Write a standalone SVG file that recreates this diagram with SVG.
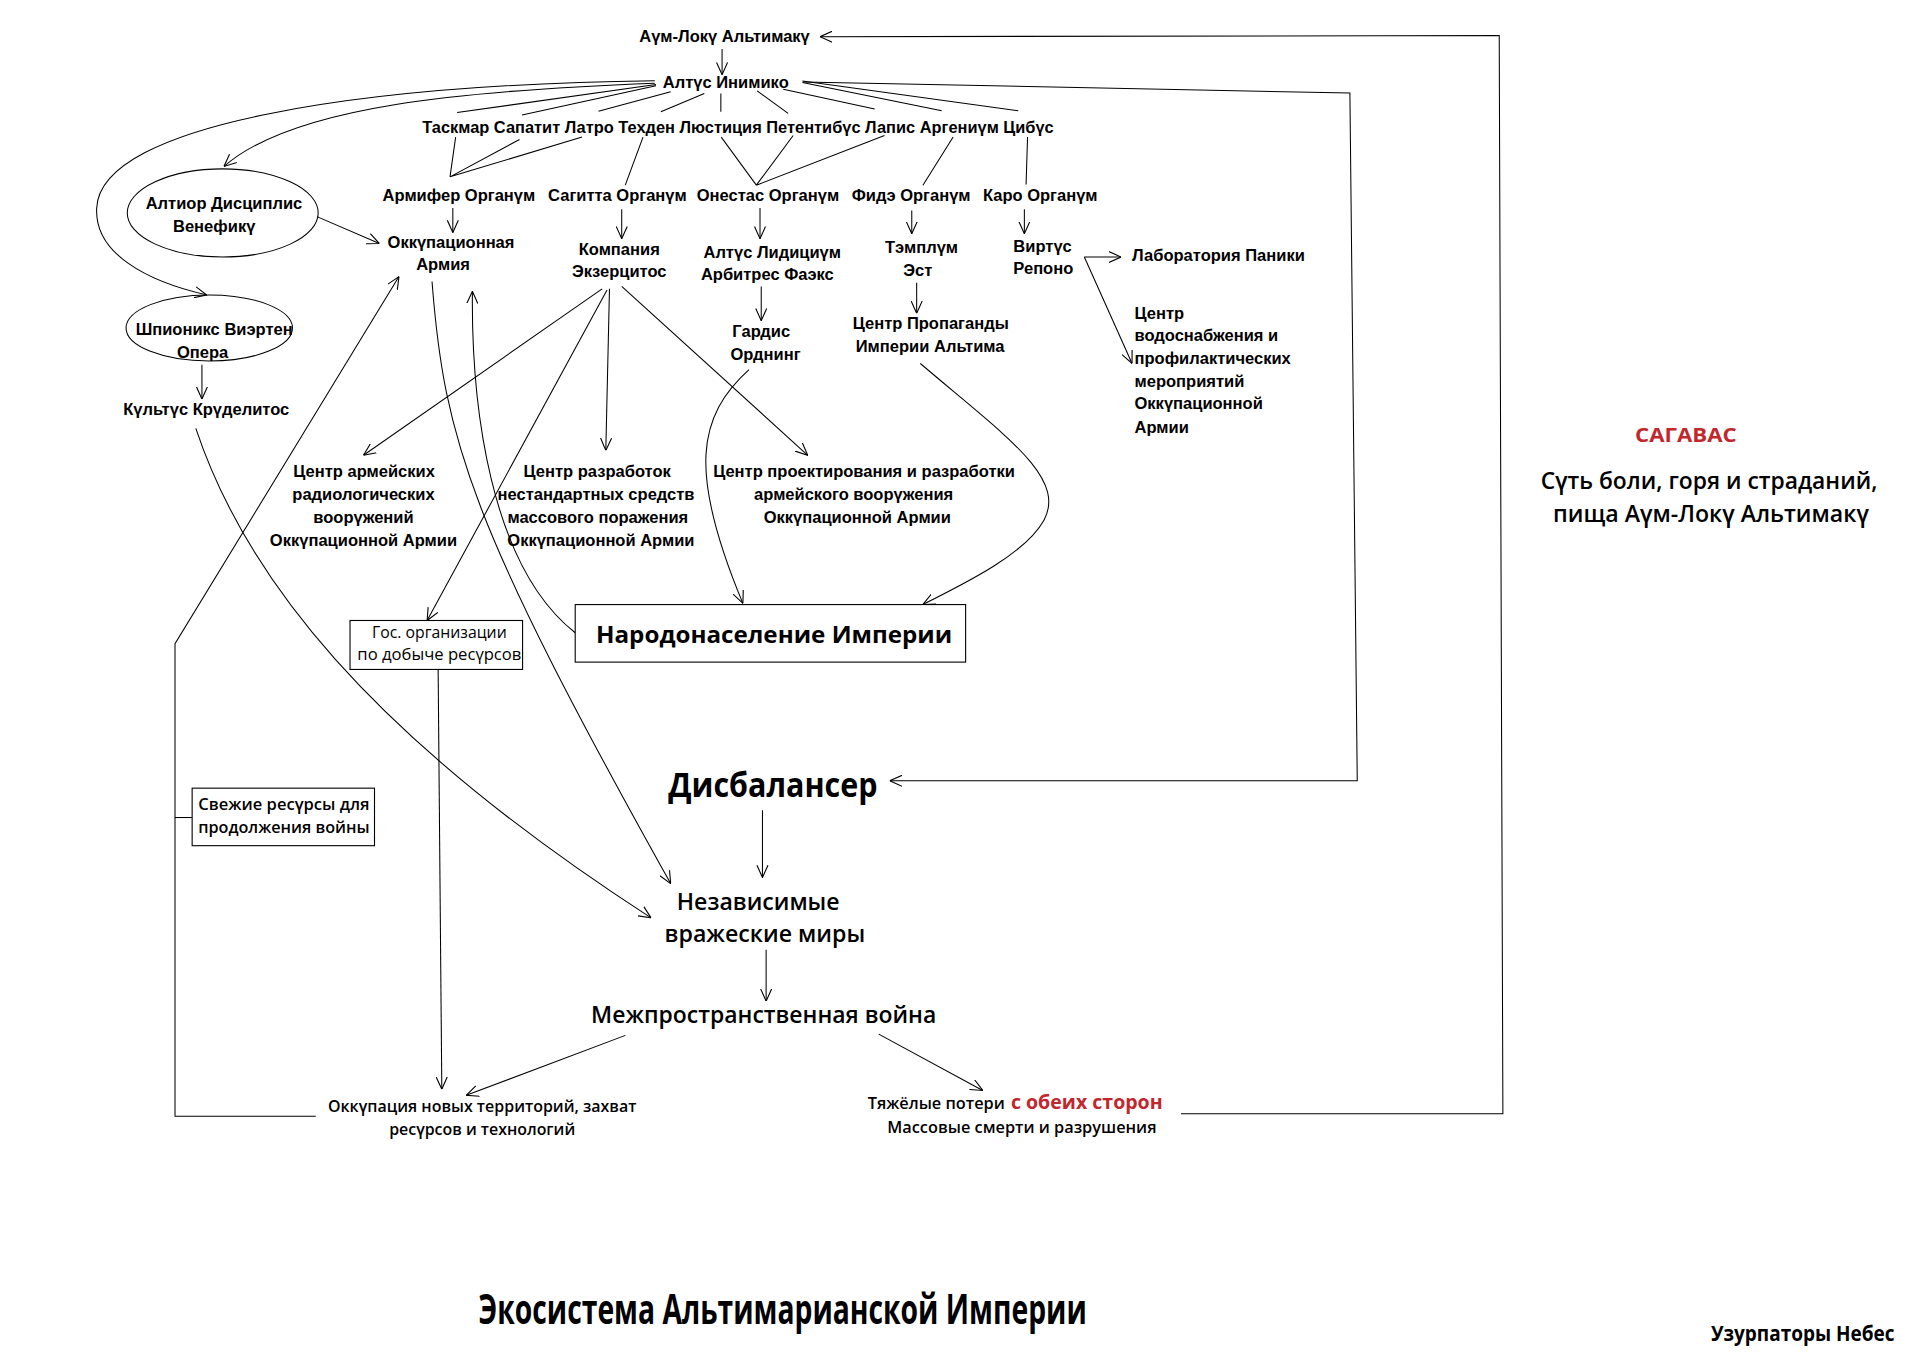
<svg xmlns="http://www.w3.org/2000/svg" width="1919" height="1359" viewBox="0 0 1919 1359">
<style>
.t{font-family:"Liberation Sans",Arial,sans-serif;font-weight:bold;font-size:13.5px;fill:#000;text-anchor:middle}
.l{text-anchor:start}
.o{font-family:"Open Sans","Liberation Sans",sans-serif;fill:#000}
.r{fill:#c1272d}
.c{fill:none;stroke:#000;stroke-width:0.85}
.a{marker-end:url(#ah)}
.b{fill:#fff;stroke:#000;stroke-width:0.9}
</style>
<defs>
<marker id="ah" viewBox="0 0 10 10" refX="10" refY="5" markerWidth="10" markerHeight="10" markerUnits="userSpaceOnUse" orient="auto">
<path d="M0,0.5 L10,5 L0,9.5" fill="none" stroke="#000" stroke-width="0.9"/>
</marker>
</defs>
<rect width="1919" height="1359" fill="#fff"/>
<g transform="scale(1.22385)">
<g id="connectors">
<path class="c a" d="M965,910 L1228,910 L1225,29 L670,30"/>
<path class="c a" d="M656,67 L1103,76 L1109,638 L727,638"/>
<path class="c a" d="M590,40 L590,61"/>
<path class="c" d="M536,69 L373.5,92 M536,70 L426.5,94 M548,75 L489,91 M575.5,76.4 L540,91.3 M589,76.4 L589,91.3 M618.6,74.3 L644,92.6 M640,73 L714.7,89 M655.7,67.5 L769.5,90.5 M655.7,66.2 L832,90.5"/>
<path class="c" d="M372.3,112 L367.7,144.5 M424.5,114 L367.7,144.5 M475.6,112 L367.7,144.5 M525.4,112 L510.9,151.3 M589.3,112 L618,151.3 M648.1,110.7 L618,151.3 M722.7,110.7 L618,151.3 M778.8,112 L754.1,151.3 M839.6,112 L838.4,150.7"/>
<path class="c a" d="M370,170 L370,190"/>
<path class="c a" d="M508,171 L508,195"/>
<path class="c a" d="M621,170 L621,195"/>
<path class="c a" d="M745,172 L745,191"/>
<path class="c a" d="M837,171 L837,191"/>
<path class="c a" d="M622,234 L622,262"/>
<path class="c a" d="M749,231 L749,256"/>
<path class="c a" d="M535,68 C 380,74 240,86 183,136"/>
<path class="c a" d="M535,66 C 300,69 82,100 79,170 C 77,207 120,230 169,241"/>
<path class="c a" d="M165,298 L165,326"/>
<path class="c a" d="M259,177 L310,199"/>
<path class="c a" d="M160,350 C 200,470 300,600 532,750"/>
<path class="c a" d="M258,912 L143,912 L143,526 L326,226"/>
<path class="c" d="M143,668 L158,668"/>
<path class="c a" d="M353,230 C 363,360 385,430 548,722"/>
<path class="c a" d="M470,517 C 400,462 385,330 386,238"/>
<path class="c a" d="M492,236 L297,372"/>
<path class="c a" d="M498,236 L495,368"/>
<path class="c a" d="M508,234 L660,372"/>
<path class="c a" d="M496,237 L349,507"/>
<path class="c a" d="M612,302 C 570,340 562,385 607,493"/>
<path class="c a" d="M752,297 C 820,355 872,390 853,425 C 838,452 792,475 754,494"/>
<path class="c a" d="M886,210 L916,210"/>
<path class="c a" d="M886,210 L925,297"/>
<path class="c a" d="M358,547 L361,890"/>
<path class="c a" d="M623,662 L623,717"/>
<path class="c a" d="M626,776 L626,818"/>
<path class="c a" d="M511,846 L381,895"/>
<path class="c a" d="M718,845 L803,891"/>
</g>

<g id="aum"><text class="t" x="592" y="34.5">Аүм-Локү Альтимакү</text></g>
<g id="altus"><text class="t" x="593" y="71.5">Алтүс Инимико</text></g>
<g id="row2"><text class="t l" x="345" y="108.5" textLength="516" lengthAdjust="spacingAndGlyphs">Таскмар Сапатит Латро Техден Люстиция Петентибүс Лапис Аргениүм Цибүс</text></g>
<g id="armifer"><text class="t" x="375" y="164.5">Армифер Органүм</text></g>
<g id="sagitta"><text class="t" x="504.5" y="164.5">Сагитта Органүм</text></g>
<g id="onestas"><text class="t" x="627.5" y="164.5">Онестас Органүм</text></g>
<g id="fide"><text class="t" x="744.5" y="164.5">Фидэ Органүм</text></g>
<g id="karo"><text class="t" x="850" y="164.5">Каро Органүм</text></g>
<g id="okkup-army"><text class="t" x="368.5" y="202.5">Оккүпационная</text><text class="t" x="362" y="220.5">Армия</text></g>
<g id="kompania"><text class="t" x="506" y="208.5">Компания</text><text class="t" x="506" y="226.5">Экзерцитос</text></g>
<g id="lidicium"><text class="t" x="631" y="210.5">Алтүс Лидициүм</text><text class="t" x="627" y="228.5">Арбитрес Фаэкс</text></g>
<g id="templum"><text class="t" x="753" y="206.5">Тэмплүм</text><text class="t" x="750" y="225.5">Эст</text></g>
<g id="virtus"><text class="t l" x="828" y="205.5">Виртүс</text><text class="t l" x="828" y="223.5">Репоно</text></g>
<g id="lab"><text class="t l" x="925" y="213.5">Лаборатория Паники</text></g>
<g id="voda"><text class="t l" x="927" y="260.5">Центр</text><text class="t l" x="927" y="278.5">водоснабжения и</text><text class="t l" x="927" y="297.5">профилактических</text><text class="t l" x="927" y="316.5">мероприятий</text><text class="t l" x="927" y="334.5">Оккүпационной</text><text class="t l" x="927" y="353.5">Армии</text></g>
<g id="altior"><ellipse class="c" cx="182" cy="174" rx="78" ry="36"/><text class="t" x="183" y="170.5">Алтиор Дисциплис</text><text class="t" x="175" y="189.5">Венефикү</text></g>
<g id="spionix"><ellipse class="c" cx="171" cy="268" rx="68" ry="27"/><text class="t" x="175" y="273.5">Шпионикс Виэртен</text><text class="t" x="165.5" y="292.5">Опера</text></g>
<g id="kultus"><text class="t" x="168.5" y="339.5">Күльтүс Крүделитос</text></g>
<g id="radio"><text class="t" x="297.5" y="389.5">Центр армейских</text><text class="t" x="297" y="408.5">радиологических</text><text class="t" x="297" y="427.5">воорүжений</text><text class="t" x="297" y="446.5">Оккүпационной Армии</text></g>
<g id="razrab"><text class="t" x="488" y="389.5">Центр разработок</text><text class="t" x="487" y="408.5">нестандартных средств</text><text class="t" x="488.5" y="427.5">массового поражения</text><text class="t" x="491" y="446.5">Оккүпационной Армии</text></g>
<g id="proekt"><text class="t" x="706" y="389.5">Центр проектирования и разработки</text><text class="t" x="697.5" y="408.5">армейского воорүжения</text><text class="t" x="700.5" y="427.5">Оккүпационной Армии</text></g>
<g id="gardis"><text class="t" x="622" y="275.5">Гардис</text><text class="t" x="625.5" y="294.5">Орднинг</text></g>
<g id="propaganda"><text class="t" x="760.5" y="268.5">Центр Пропаганды</text><text class="t" x="760" y="287.5">Империи Альтима</text></g>
<g id="gos"><rect class="b" x="286" y="507" width="141" height="40"/><text class="o" x="304" y="521" font-size="13" textLength="110" lengthAdjust="spacingAndGlyphs">Гос. организации</text><text class="o" x="292" y="539" font-size="13" textLength="134" lengthAdjust="spacingAndGlyphs">по добыче ресүрсов</text></g>
<g id="narod"><rect class="b" x="470" y="494" width="319" height="47"/><text class="o" x="487" y="525.5" font-size="19" font-weight="bold" textLength="291" lengthAdjust="spacingAndGlyphs">Народонаселение Империи</text></g>
<g id="svezhie"><rect class="b" x="157" y="644" width="149" height="47"/><text class="o" x="162" y="662" font-size="13.5" font-weight="600" textLength="140" lengthAdjust="spacingAndGlyphs">Свежие ресүрсы для</text><text class="o" x="162" y="681" font-size="13.5" font-weight="600" textLength="140" lengthAdjust="spacingAndGlyphs">продолжения войны</text></g>
<g id="disbalanser"><text class="o" x="546" y="651" font-size="27" font-weight="bold" textLength="171" lengthAdjust="spacingAndGlyphs">Дисбалансер</text></g>
<g id="nezavisimye"><text class="o" x="553" y="743.5" font-size="19" font-weight="600" textLength="133" lengthAdjust="spacingAndGlyphs">Независимые</text><text class="o" x="543" y="770" font-size="19" font-weight="600" textLength="164" lengthAdjust="spacingAndGlyphs">вражеские миры</text></g>
<g id="mezhprostr"><text class="o" x="483" y="835.5" font-size="18.5" font-weight="600" textLength="282" lengthAdjust="spacingAndGlyphs">Межпространственная война</text></g>
<g id="okkupatsia"><text class="o" x="268" y="909" font-size="13.5" font-weight="600" textLength="252" lengthAdjust="spacingAndGlyphs">Оккүпация новых территорий, захват</text><text class="o" x="318" y="927" font-size="13.5" font-weight="600" textLength="152" lengthAdjust="spacingAndGlyphs">ресүрсов и технологий</text></g>
<g id="poteri"><text class="o" x="709" y="906" font-size="13.5" font-weight="600" textLength="112" lengthAdjust="spacingAndGlyphs">Тяжёлые потери</text><text class="o r" x="826" y="906" font-size="16.5" font-weight="bold" textLength="124" lengthAdjust="spacingAndGlyphs">с обеих сторон</text><text class="o" x="725" y="926" font-size="13.5" font-weight="600" textLength="220" lengthAdjust="spacingAndGlyphs">Массовые смерти и разрушения</text></g>
<g id="sagavas"><text class="o r" x="1336" y="361" font-size="16.5" font-weight="bold" textLength="83" lengthAdjust="spacingAndGlyphs">САГАВАС</text><text class="o" x="1259" y="399.5" font-size="18.5" font-weight="600" textLength="275" lengthAdjust="spacingAndGlyphs">Сүть боли, горя и страданий,</text><text class="o" x="1269" y="426.5" font-size="18.5" font-weight="600" textLength="258" lengthAdjust="spacingAndGlyphs">пища Аүм-Локү Альтимакү</text></g>
<g id="title"><text class="o" x="391" y="1082" font-size="33" font-weight="bold" textLength="497" lengthAdjust="spacingAndGlyphs">Экосистема Альтимарианской Империи</text></g>
<g id="author"><text class="o" x="1398" y="1096" font-size="17.5" font-weight="bold" textLength="150" lengthAdjust="spacingAndGlyphs">Узурпаторы Небес</text></g>
</g>
</svg>
